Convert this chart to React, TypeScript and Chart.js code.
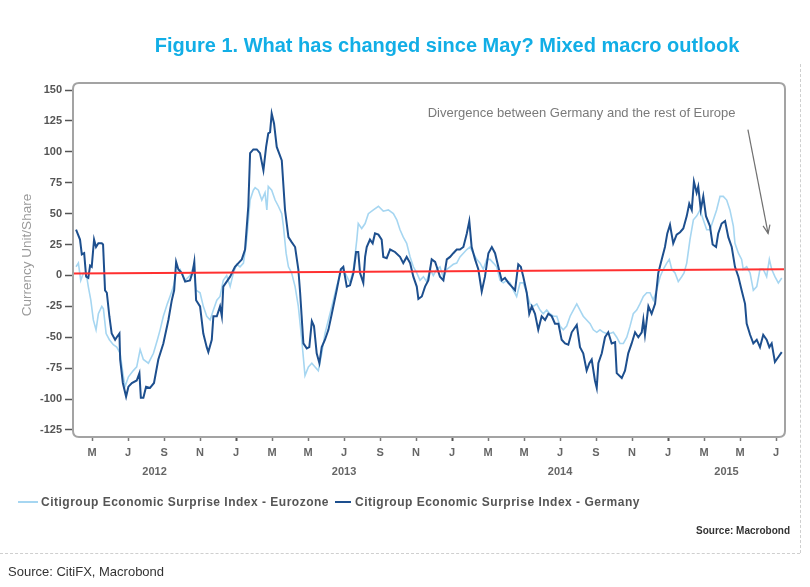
import React, { useEffect, useRef } from "react";
import { Chart, registerables } from "chart.js";

Chart.register(...registerables);

// x values are months counted from January 2012 (0 = Jan 2012, 12 = Jan 2013 ...)
const germanyMonths = [3.11,3.33,3.43,3.56,3.67,3.79,3.89,3.98,4.11,4.22,4.35,4.54,4.61,4.72,4.82,4.96,5.09,5.28,5.37,5.52,5.56,5.71,5.89,6.02,6.21,6.48,6.63,6.71,6.85,7.00,7.22,7.44,7.68,7.96,8.24,8.43,8.56,8.67,8.79,8.98,9.17,9.44,9.59,9.68,9.78,10.00,10.18,10.37,10.46,10.65,10.74,10.93,11.11,11.21,11.29,11.48,11.67,11.94,12.13,12.32,12.50,12.68,12.78,12.96,13.15,13.33,13.52,13.67,13.79,13.89,13.98,14.11,14.26,14.54,14.72,14.91,15.09,15.28,15.46,15.56,15.74,15.93,16.07,16.21,16.33,16.48,16.63,16.76,16.94,17.13,17.32,17.59,17.82,17.96,18.15,18.33,18.52,18.67,18.79,18.89,19.07,19.17,19.26,19.44,19.59,19.72,19.91,20.09,20.18,20.37,20.56,20.83,21.11,21.29,21.48,21.67,21.85,22.04,22.13,22.32,22.50,22.68,22.87,23.06,23.15,23.33,23.52,23.71,23.89,24.07,24.26,24.44,24.63,24.82,24.96,25.09,25.28,25.46,25.65,25.83,26.02,26.21,26.39,26.57,26.76,26.94,27.13,27.32,27.50,27.68,27.82,27.96,28.15,28.29,28.43,28.61,28.79,28.98,29.17,29.35,29.54,29.72,29.91,30.09,30.28,30.46,30.65,30.93,31.11,31.29,31.48,31.63,31.76,31.94,32.04,32.13,32.32,32.50,32.68,32.87,33.06,33.15,33.43,33.61,33.79,33.98,34.17,34.35,34.54,34.63,34.72,34.91,35.09,35.28,35.46,35.65,35.83,35.96,36.11,36.29,36.48,36.67,36.85,37.04,37.18,37.32,37.44,37.59,37.68,37.82,37.96,38.11,38.33,38.48,38.67,38.79,38.98,39.17,39.35,39.54,39.72,39.91,40.09,40.28,40.37,40.56,40.74,40.93,41.11,41.29,41.48,41.63,41.76,41.94,42.13,42.32];
const germanyValues = [37,29,17,18,-1,-2,8,7,29,23,26,26,25,-12,-14,-33,-47,-52,-50,-47,-68,-87,-98,-90,-87,-85,-79,-99,-99,-90,-91,-87,-68,-55,-36,-20,-12,11,5,2,-5,-4,3,11,-20,-25,-47,-58,-62,-52,-33,-33,-25,-33,-9,-5,-1,7,10,13,21,56,99,102,102,99,85,104,115,116,131,123,104,93,53,31,27,23,5,-14,-55,-59,-58,-37,-41,-63,-71,-58,-52,-44,-31,-12,5,7,-9,-8,2,19,19,2,-6,15,23,29,26,34,33,29,15,14,21,19,15,10,15,10,-1,-9,-19,-17,-9,-4,13,11,7,-1,-4,13,15,18,21,21,23,34,44,23,13,5,-13,-1,18,23,18,7,-4,-2,-6,-9,-12,9,7,-1,-14,-31,-25,-31,-44,-33,-36,-31,-33,-39,-39,-52,-55,-56,-46,-40,-58,-63,-77,-71,-68,-85,-91,-71,-63,-50,-46,-55,-54,-79,-83,-77,-63,-55,-46,-50,-46,-36,-48,-25,-31,-23,2,13,23,34,41,26,33,35,38,48,58,53,76,67,72,53,64,48,40,25,23,34,42,44,31,23,7,-1,-12,-23,-39,-48,-55,-52,-58,-48,-52,-58,-55,-70,-66,-62];

const eurozoneMonths = [3.11,3.24,3.37,3.52,3.67,3.79,3.93,4.07,4.22,4.35,4.54,4.63,4.78,4.96,5.18,5.37,5.56,5.71,5.83,6.02,6.29,6.48,6.67,6.85,7.13,7.41,7.63,7.78,7.96,8.18,8.33,8.52,8.67,8.89,9.17,9.44,9.63,9.78,10.00,10.18,10.37,10.56,10.74,10.93,11.11,11.29,11.48,11.67,11.85,12.04,12.22,12.41,12.59,12.78,12.96,13.06,13.24,13.43,13.61,13.71,13.79,13.98,14.17,14.35,14.54,14.63,14.78,14.91,15.09,15.28,15.46,15.65,15.83,16.02,16.21,16.39,16.57,16.76,16.94,17.13,17.32,17.59,17.87,18.06,18.33,18.52,18.71,18.79,18.98,19.17,19.35,19.63,19.91,20.18,20.46,20.74,20.93,21.11,21.29,21.48,21.67,21.85,22.04,22.22,22.41,22.59,22.78,22.96,23.15,23.33,23.52,23.71,23.89,24.07,24.26,24.44,24.63,24.82,25.00,25.18,25.37,25.56,25.74,25.93,26.11,26.30,26.48,26.67,26.85,27.04,27.22,27.41,27.59,27.78,27.96,28.15,28.33,28.52,28.71,28.89,29.07,29.26,29.44,29.63,29.82,30.00,30.18,30.37,30.56,30.74,30.93,31.11,31.29,31.48,31.67,31.85,32.04,32.22,32.41,32.59,32.78,32.96,33.15,33.33,33.52,33.71,33.89,34.07,34.26,34.44,34.63,34.82,35.00,35.18,35.37,35.56,35.74,35.93,36.07,36.21,36.39,36.57,36.76,36.89,37.04,37.22,37.41,37.59,37.78,37.96,38.15,38.33,38.52,38.70,38.89,39.07,39.26,39.44,39.63,39.72,39.91,40.09,40.18,40.37,40.56,40.74,40.93,41.11,41.29,41.48,41.63,41.76,41.94,42.13,42.32];
const eurozoneValues = [7,10,-4,2,2,-9,-20,-36,-44,-31,-25,-27,-47,-52,-56,-58,-63,-79,-90,-82,-77,-74,-60,-68,-71,-63,-52,-44,-33,-23,-17,-9,2,5,-4,0,7,-12,-14,-25,-33,-36,-28,-20,-17,-4,0,-9,2,9,7,10,29,61,69,71,69,61,67,53,72,69,61,56,50,40,18,7,2,-9,-25,-52,-81,-74,-71,-74,-77,-63,-47,-36,-25,-9,5,2,-6,5,29,42,38,42,50,53,56,52,53,50,45,37,31,26,15,7,2,-4,-1,-5,5,0,5,7,-2,5,7,9,10,15,18,21,23,18,13,10,5,13,13,10,7,-4,-6,-4,-6,-12,-17,-6,-6,-14,-23,-25,-23,-28,-31,-28,-31,-33,-33,-41,-44,-41,-33,-28,-23,-28,-33,-36,-39,-44,-46,-44,-46,-47,-47,-46,-50,-55,-55,-50,-41,-31,-28,-23,-17,-14,-14,-20,-12,-1,5,10,13,5,2,-5,-1,2,10,29,45,48,53,45,37,37,45,53,64,64,61,53,40,26,18,13,5,7,2,-12,-9,5,5,-1,13,5,-1,-6,-2];

const referenceMonths = [2.94, 42.5];
const referenceValues = [1.5, 5];

const monthTicks = [4, 6, 8, 10, 12, 14, 16, 18, 20, 22, 24, 26, 28, 30, 32, 34, 36, 38, 40, 42];
const monthLetters = ["J", "F", "M", "A", "M", "J", "J", "A", "S", "O", "N", "D"];
const yearTicks = [7.47, 18, 30, 39.25];
const yearLabels = ["2012", "2013", "2014", "2015"];
const yTicks = [-125, -100, -75, -50, -25, 0, 25, 50, 75, 100, 125, 150];

const titleText = "Figure 1. What has changed since May? Mixed macro outlook";
const yTitle = "Currency Unit/Share";
const annotationText = "Divergence between Germany and the rest of Europe";
const annotationAt = { x: 31.2, y: 131 };
const arrowFrom = { x: 40.44, y: 118 };
const arrowTo = { x: 41.56, y: 34 };
const eurozoneLabel = "Citigroup Economic Surprise Index - Eurozone";
const germanyLabel = "Citigroup Economic Surprise Index - Germany";

const X_MIN = 2.94;
const X_MAX = 42.5;

const GERMANY_COLOR = "#1d4f8e";
const EUROZONE_COLOR = "#a6d6f1";
const RED = "#ff3030";
const FONT = '"Liberation Sans", Arial, sans-serif';

const framePlugin = {
  id: "framePlugin",
  afterDatasetsDraw(chart: any) {
    const { ctx, chartArea: a, scales } = chart;
    const xs = scales.x;
    const ys = scales.y;
    ctx.save();
    // rounded plot frame
    const r = 6;
    ctx.beginPath();
    ctx.moveTo(a.left + r, a.top);
    ctx.lineTo(a.right - r, a.top);
    ctx.quadraticCurveTo(a.right, a.top, a.right, a.top + r);
    ctx.lineTo(a.right, a.bottom - r);
    ctx.quadraticCurveTo(a.right, a.bottom, a.right - r, a.bottom);
    ctx.lineTo(a.left + r, a.bottom);
    ctx.quadraticCurveTo(a.left, a.bottom, a.left, a.bottom - r);
    ctx.lineTo(a.left, a.top + r);
    ctx.quadraticCurveTo(a.left, a.top, a.left + r, a.top);
    ctx.strokeStyle = "#a3a3a3";
    ctx.lineWidth = 2;
    ctx.stroke();

    // annotation text
    ctx.fillStyle = "#7a7a7a";
    ctx.font = "13px " + FONT;
    ctx.textAlign = "center";
    ctx.textBaseline = "middle";
    ctx.fillText(annotationText, xs.getPixelForValue(annotationAt.x), ys.getPixelForValue(annotationAt.y));

    // arrow
    const x1 = xs.getPixelForValue(arrowFrom.x);
    const y1 = ys.getPixelForValue(arrowFrom.y);
    const x2 = xs.getPixelForValue(arrowTo.x);
    const y2 = ys.getPixelForValue(arrowTo.y);
    ctx.strokeStyle = "#707070";
    ctx.lineWidth = 1.2;
    ctx.beginPath();
    ctx.moveTo(x1, y1);
    ctx.lineTo(x2, y2);
    ctx.stroke();
    const ang = Math.atan2(y2 - y1, x2 - x1);
    const hl = 9;
    ctx.beginPath();
    ctx.moveTo(x2 - hl * Math.cos(ang - 0.4), y2 - hl * Math.sin(ang - 0.4));
    ctx.lineTo(x2, y2);
    ctx.lineTo(x2 - hl * Math.cos(ang + 0.4), y2 - hl * Math.sin(ang + 0.4));
    ctx.stroke();

    // y-axis title
    ctx.translate(27, (a.top + a.bottom) / 2 - 5);
    ctx.rotate(-Math.PI / 2);
    ctx.fillStyle = "#9a9a9a";
    ctx.font = "13.5px " + FONT;
    ctx.textAlign = "center";
    ctx.textBaseline = "middle";
    ctx.fillText(yTitle, 0, 0);
    ctx.restore();
  },
};

export default function App() {
  const canvasRef = useRef<HTMLCanvasElement>(null);

  useEffect(() => {
    document.body.style.margin = "0";
    const canvas = canvasRef.current;
    if (!canvas) return;
    const chart = new Chart(canvas, {
      type: "line",
      data: {
        datasets: [
          {
            label: "reference",
            data: referenceMonths.map((m, i) => ({ x: m, y: referenceValues[i] })),
            borderColor: RED,
            borderWidth: 2,
            pointRadius: 0,
          },
          {
            label: germanyLabel,
            data: germanyMonths.map((m, i) => ({ x: m, y: germanyValues[i] })),
            borderColor: GERMANY_COLOR,
            borderWidth: 2,
            pointRadius: 0,
            tension: 0,
          },
          {
            label: eurozoneLabel,
            data: eurozoneMonths.map((m, i) => ({ x: m, y: eurozoneValues[i] })),
            borderColor: EUROZONE_COLOR,
            borderWidth: 1.6,
            pointRadius: 0,
            tension: 0,
          },
        ],
      },
      options: {
        animation: false,
        responsive: false,
        devicePixelRatio: 1,
        layout: { padding: { top: 83, right: 25, left: 0, bottom: 100 } },
        plugins: { legend: { display: false }, tooltip: { enabled: false } },
        scales: {
          x: {
            type: "linear",
            position: "bottom",
            min: X_MIN,
            max: X_MAX,
            afterBuildTicks: (s: any) => {
              s.ticks = monthTicks.map((v) => ({ value: v }));
            },
            afterFit: (s: any) => {
              s.height = 26;
            },
            ticks: {
              autoSkip: false,
              maxRotation: 0,
              padding: 5,
              color: "#666",
              font: { family: FONT, size: 11, weight: "bold" },
              callback: (v: any) => monthLetters[((Math.round(v) % 12) + 12) % 12],
            },
            grid: {
              display: true,
              drawOnChartArea: false,
              drawTicks: true,
              tickLength: 4,
              tickColor: (c: any) => (c.tick && Math.round(c.tick.value) % 12 === 0 ? "#555" : "#777"),
              tickWidth: (c: any) => (c.tick && Math.round(c.tick.value) % 12 === 0 ? 2 : 1.5),
            },
            border: { display: false },
          },
          x2: {
            type: "linear",
            position: "bottom",
            min: X_MIN,
            max: X_MAX,
            afterBuildTicks: (s: any) => {
              s.ticks = yearTicks.map((v) => ({ value: v }));
            },
            afterFit: (s: any) => {
              s.height = 24;
            },
            ticks: {
              autoSkip: false,
              maxRotation: 0,
              padding: 2,
              color: "#666",
              font: { family: FONT, size: 11, weight: "bold" },
              callback: (v: any, i: number) => yearLabels[i],
            },
            grid: { display: false, drawTicks: false },
            border: { display: false },
          },
          y: {
            type: "linear",
            min: -130.7,
            max: 155.7,
            afterBuildTicks: (s: any) => {
              s.ticks = yTicks.map((v) => ({ value: v }));
            },
            afterFit: (s: any) => {
              s.width = 73;
            },
            ticks: {
              padding: 3,
              color: "#555",
              font: { family: FONT, size: 11, weight: "bold" },
            },
            grid: {
              display: true,
              drawOnChartArea: false,
              drawTicks: true,
              tickLength: 8,
              tickColor: "#555",
              tickWidth: 1.5,
            },
            border: { display: false },
          },
        },
      },
      plugins: [framePlugin],
    } as any);
    return () => chart.destroy();
  }, []);

  const legendText: React.CSSProperties = {
    fontFamily: FONT,
    fontSize: 12,
    fontWeight: "bold",
    letterSpacing: 0.5,
    color: "#555",
    whiteSpace: "nowrap",
  };

  return (
    <div style={{ position: "relative", width: 810, height: 587, background: "#fff", overflow: "hidden" }}>
      <canvas ref={canvasRef} width={810} height={587} style={{ position: "absolute", left: 0, top: 0 }} />
      <div
        style={{
          position: "absolute",
          left: 0,
          width: 894,
          top: 34,
          textAlign: "center",
          fontFamily: '"Liberation Sans Narrow", "Arial Narrow", "Liberation Sans", Arial, sans-serif',
          fontWeight: "bold",
          fontSize: 20,
          color: "#12aee6",
          whiteSpace: "nowrap",
        }}
      >
        {titleText}
      </div>
      <div style={{ position: "absolute", left: 800, top: 64, height: 489, borderLeft: "1px dashed #cfcfcf" }} />
      <div style={{ position: "absolute", left: 0, top: 553, width: 800, borderTop: "1px dashed #cfcfcf" }} />
      <div style={{ position: "absolute", left: 18, top: 495, display: "flex", alignItems: "center" }}>
        <span style={{ display: "inline-block", width: 20, height: 2, background: EUROZONE_COLOR, marginRight: 3 }} />
        <span style={legendText}>{eurozoneLabel}</span>
        <span style={{ display: "inline-block", width: 16, height: 2.5, background: GERMANY_COLOR, marginLeft: 6, marginRight: 4 }} />
        <span style={legendText}>{germanyLabel}</span>
      </div>
      <div
        style={{
          position: "absolute",
          right: 20,
          top: 525,
          fontFamily: FONT,
          fontSize: 10,
          fontWeight: "bold",
          color: "#333",
        }}
      >
        Source: Macrobond
      </div>
      <div style={{ position: "absolute", left: 8, top: 564, fontFamily: FONT, fontSize: 13, color: "#333" }}>
        Source: CitiFX, Macrobond
      </div>
    </div>
  );
}
